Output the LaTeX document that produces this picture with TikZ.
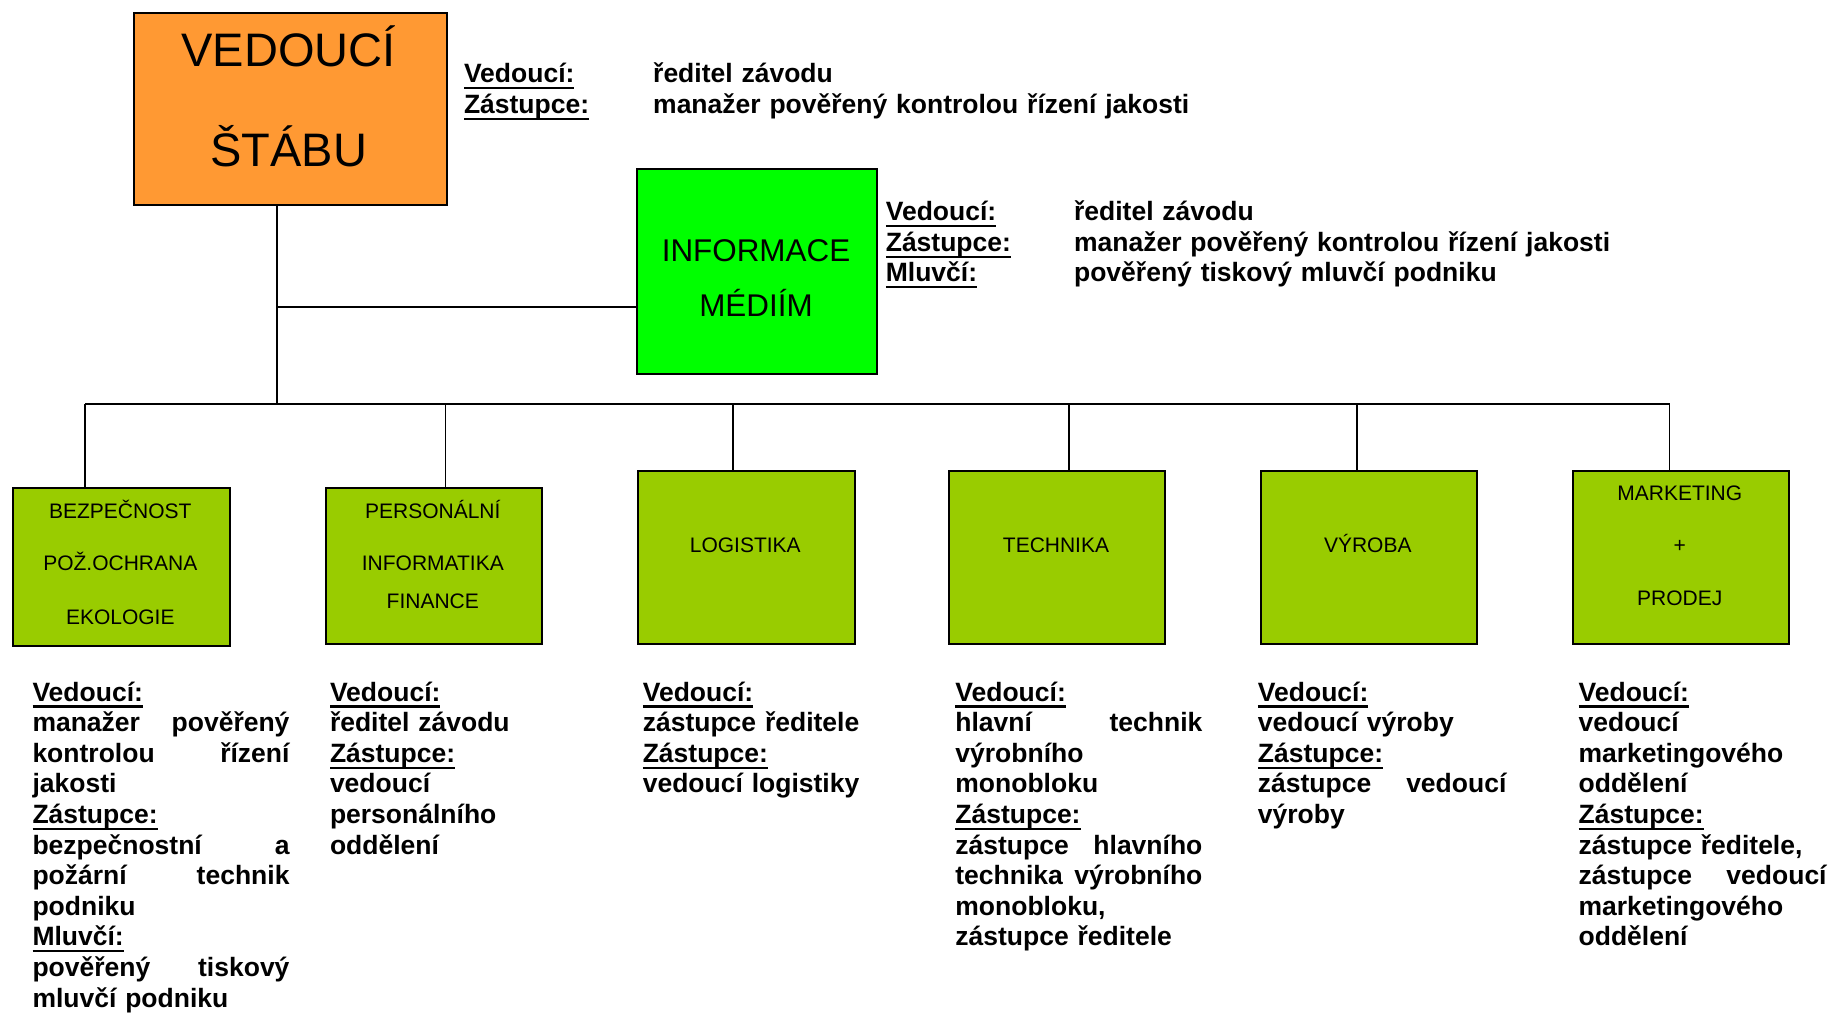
\documentclass[tikz,border=0pt]{standalone}
\usepackage{fontspec}
\setmainfont{Liberation Sans}
\definecolor{orangec}{HTML}{FF9933}
\definecolor{greenc}{HTML}{00FF00}
\definecolor{olivec}{HTML}{99CC00}
\newsavebox\myulbox
\newcommand\myul[1]{\leavevmode\sbox\myulbox{#1}\rlap{\rule[-6.6pt]{\wd\myulbox}{2.2pt}}\usebox\myulbox}
\tikzset{
  box/.style={draw=black, line width=2pt, inner sep=0pt, anchor=north west},
  conn/.style={line width=1.7pt},
  boxtxt/.style={font=\fontsize{21}{25}\selectfont, inner sep=0pt, anchor=base},
  desc/.style={font=\bfseries\fontsize{26.5}{30.6}\selectfont, inner sep=0pt, anchor=base west, align=left},
}
\begin{document}
\begin{tikzpicture}[x=1pt,y=-1pt]
\useasboundingbox (0,0) rectangle (1831,1013);
% boxes
\node[box, fill=orangec, minimum width=312.9pt, minimum height=192.3pt] (vs) at (132.6,11.7) {};
\node[box, fill=greenc, minimum width=240pt, minimum height=205pt] (info) at (636,168.3) {};
\node[box, fill=olivec, minimum width=217.2pt, minimum height=157.7pt] (b1) at (11.7,487.3) {};
\node[box, fill=olivec, minimum width=216.5pt, minimum height=155.4pt] (b2) at (324.5,487.3) {};
\node[box, fill=olivec, minimum width=217.2pt, minimum height=172.7pt] (b3) at (636.7,470) {};
\node[box, fill=olivec, minimum width=215.5pt, minimum height=172.7pt] (b4) at (948.2,470) {};
\node[box, fill=olivec, minimum width=215.6pt, minimum height=172.7pt] (b5) at (1260,470) {};
\node[box, fill=olivec, minimum width=215.5pt, minimum height=172.7pt] (b6) at (1572,470) {};
% box texts
\node[inner sep=0pt, anchor=base, font=\fontsize{47}{50}\selectfont] (vs1) at (288.7,66.7) {VEDOUCÍ};
\node[inner sep=0pt, anchor=base, font=\fontsize{47}{50}\selectfont] (vs2) at (288.7,166) {ŠTÁBU};
\node[inner sep=0pt, anchor=base, font=\fontsize{31.4}{35}\selectfont] (in1) at (756,261.7) {INFORMACE};
\node[inner sep=0pt, anchor=base, font=\fontsize{31.4}{35}\selectfont] (in2) at (756,316.7) {MÉDIÍM};
\node[boxtxt] (b1a) at (120.3,518.3) {BEZPEČNOST};
\node[boxtxt] (b1b) at (120.3,570.7) {POŽ.OCHRANA};
\node[boxtxt] (b1c) at (120.3,624) {EKOLOGIE};
\node[boxtxt] (b2a) at (432.8,518.3) {PERSONÁLNÍ};
\node[boxtxt] (b2b) at (432.8,570.7) {INFORMATIKA};
\node[boxtxt] (b2c) at (432.8,608.3) {FINANCE};
\node[boxtxt] (b3a) at (745.3,552.7) {LOGISTIKA};
\node[boxtxt] (b4a) at (1056,552.7) {TECHNIKA};
\node[boxtxt] (b5a) at (1367.8,552.7) {VÝROBA};
\node[boxtxt] (b6a) at (1679.8,500.7) {MARKETING};
\node[boxtxt] (b6b) at (1679.8,552.7) {+};
\node[boxtxt] (b6c) at (1679.8,605) {PRODEJ};
% connectors
\coordinate (s0) at (277.3,404);
\coordinate (jm) at (277.3,306.7);
\coordinate (j1) at (85,404);
\coordinate (j2) at (445.4,404);
\coordinate (j3) at (733,404);
\coordinate (j4) at (1069.2,404);
\coordinate (j5) at (1357,404);
\coordinate (j6) at (1669.5,404);
\draw[conn] (s0 |- vs.south) -- (s0);
\draw[conn] (jm) -- (jm -| info.west);
\draw[conn] (j1) -- (j6);
\draw[conn] (j1) -- (j1 |- b1.north);
\draw[conn] (j2) -- (j2 |- b2.north);
\draw[conn] (j3) -- (j3 |- b3.north);
\draw[conn] (j4) -- (j4 |- b4.north);
\draw[conn] (j5) -- (j5 |- b5.north);
\draw[conn] (j6) -- (j6 |- b6.north);
% top descriptions
\node[desc, text width=800pt, font=\bfseries\fontsize{26.5}{30.8}\selectfont] (d0) at (463.8,82.7) {\makebox[189.2pt][l]{\myul{Vedoucí:}}ředitel závodu\\
\makebox[189.2pt][l]{\myul{Zástupce:}}manažer pověřený kontrolou řízení jakosti};
\node[desc, text width=800pt, font=\bfseries\fontsize{26.5}{30.6}\selectfont] (di) at (885.6,220.5) {\makebox[188.3pt][l]{\myul{Vedoucí:}}ředitel závodu\\
\makebox[188.3pt][l]{\myul{Zástupce:}}manažer pověřený kontrolou řízení jakosti\\
\makebox[188.3pt][l]{\myul{Mluvčí:}}pověřený tiskový mluvčí podniku};
% bottom descriptions
\node[desc, text width=257pt] (d1) at (32.3,701) {\myul{Vedoucí:}\\
manažer \hfill pověřený\\
kontrolou \hfill řízení\\
jakosti\\
\myul{Zástupce:}\\
bezpečnostní \hfill a\\
požární \hfill technik\\
podniku\\
\myul{Mluvčí:}\\
pověřený \hfill tiskový\\
mluvčí podniku};
\node[desc, text width=250pt] (d2) at (329.8,701) {\myul{Vedoucí:}\\
ředitel závodu\\
\myul{Zástupce:}\\
vedoucí\\
personálního\\
oddělení};
\node[desc, text width=250pt] (d3) at (642.6,701) {\myul{Vedoucí:}\\
zástupce ředitele\\
\myul{Zástupce:}\\
vedoucí logistiky};
\node[desc, text width=247pt] (d4) at (955.2,701) {\myul{Vedoucí:}\\
hlavní \hfill technik\\
výrobního\\
monobloku\\
\myul{Zástupce:}\\
zástupce \hfill hlavního\\
technika \hfill výrobního\\
monobloku,\\
zástupce ředitele};
\node[desc, text width=248.5pt] (d5) at (1257.7,701) {\myul{Vedoucí:}\\
vedoucí výroby\\
\myul{Zástupce:}\\
zástupce \hfill vedoucí\\
výroby};
\node[desc, text width=248pt] (d6) at (1578.4,701) {\myul{Vedoucí:}\\
vedoucí\\
marketingového\\
oddělení\\
\myul{Zástupce:}\\
zástupce ředitele,\\
zástupce \hfill vedoucí\\
marketingového\\
oddělení};
\end{tikzpicture}
\end{document}
